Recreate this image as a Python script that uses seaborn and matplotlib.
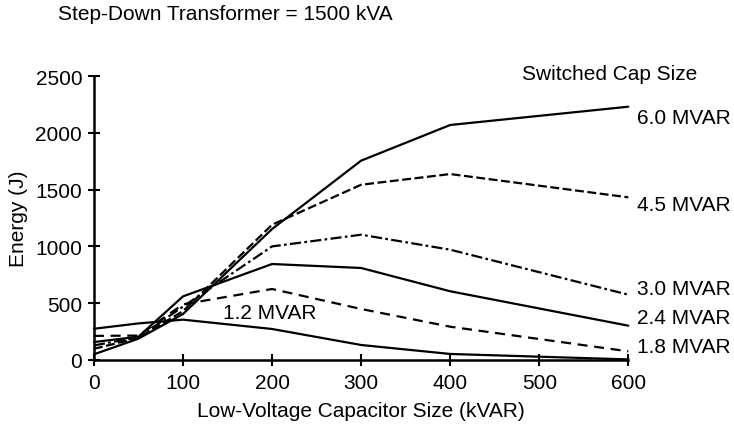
import matplotlib
matplotlib.use("Agg")
import matplotlib.pyplot as plt
import seaborn as sns
import pandas as pd

# Low-voltage capacitor sizes (kVAR)
lv_size = [0, 50, 100, 200, 300, 400, 600]

# Switched capacitor bank sizes and energy (J) for each
cap_sizes = ["1.2 MVAR", "1.8 MVAR", "2.4 MVAR", "3.0 MVAR", "4.5 MVAR", "6.0 MVAR"]
energy_1_2 = [275, 322, 355, 273, 132, 53, 5]
energy_1_8 = [212, 215, 490, 625, 449, 293, 76]
energy_2_4 = [158, 205, 560, 845, 810, 605, 302]
energy_3_0 = [128, 200, 470, 1000, 1103, 971, 575]
energy_4_5 = [98, 195, 430, 1191, 1543, 1637, 1432]
energy_6_0 = [50, 188, 405, 1153, 1755, 2069, 2230]

series = [energy_1_2, energy_1_8, energy_2_4, energy_3_0, energy_4_5, energy_6_0]

rows = []
for name, vals in zip(cap_sizes, series):
    for x, y in zip(lv_size, vals):
        rows.append({"kVAR": x, "Energy": y, "Cap": name})
df = pd.DataFrame(rows)

sns.set_style("ticks")
plt.rcParams["font.family"] = ["Liberation Sans", "DejaVu Sans"]
plt.rcParams["text.color"] = "black"
plt.rcParams["axes.labelcolor"] = "black"

FS = 15

fig = plt.figure(figsize=(7.34, 4.27), dpi=100)
ax = fig.add_axes([0.128, 0.1546, 0.728, 0.665])

dash_map = {
    "1.2 MVAR": "",
    "1.8 MVAR": (4.5, 3),
    "2.4 MVAR": "",
    "3.0 MVAR": (5, 1.5, 1.2, 1.5),
    "4.5 MVAR": (4, 1.6),
    "6.0 MVAR": "",
}

sns.lineplot(data=df, x="kVAR", y="Energy", style="Cap", units="Cap",
             estimator=None, dashes=dash_map, color="black", linewidth=1.6,
             legend=False, ax=ax, clip_on=False)

ax.set_xlim(0, 600)
ax.set_ylim(0, 2500)
ax.set_xticks(range(0, 601, 100))
ax.set_yticks(range(0, 2501, 500))
ax.tick_params(axis="both", direction="inout", length=9, width=1.5,
               labelsize=FS, colors="black")
ax.tick_params(axis="x", pad=5)
ax.tick_params(axis="y", pad=4)
for side in ["left", "bottom"]:
    ax.spines[side].set_linewidth(1.8)
    ax.spines[side].set_color("black")
sns.despine(ax=ax)

ax.set_xlabel("Low-Voltage Capacitor Size (kVAR)", fontsize=FS)
ax.set_ylabel("Energy (J)", fontsize=FS)
ax.xaxis.set_label_coords(0.5, -0.178)
ax.yaxis.set_label_coords(-0.142, 0.5)
ax.xaxis.label.set_va("center")
ax.yaxis.label.set_va("center")

# Series labels at the right end of each curve
label_y = {"6.0 MVAR": 2139, "4.5 MVAR": 1373, "3.0 MVAR": 625,
           "2.4 MVAR": 370, "1.8 MVAR": 123}
for name, yv in label_y.items():
    ax.text(610, yv, name, fontsize=FS, va="center", ha="left", clip_on=False)
ax.text(145, 414, "1.2 MVAR", fontsize=FS, va="center", ha="left")
ax.text(481, 2526, "Switched Cap Size", fontsize=FS, va="center", ha="left",
        clip_on=False)

fig.text(58 / 734, 1 - 15 / 427, "Step-Down Transformer = 1500 kVA",
         fontsize=FS, va="center", ha="left")

fig.savefig("out.png", dpi=100)
